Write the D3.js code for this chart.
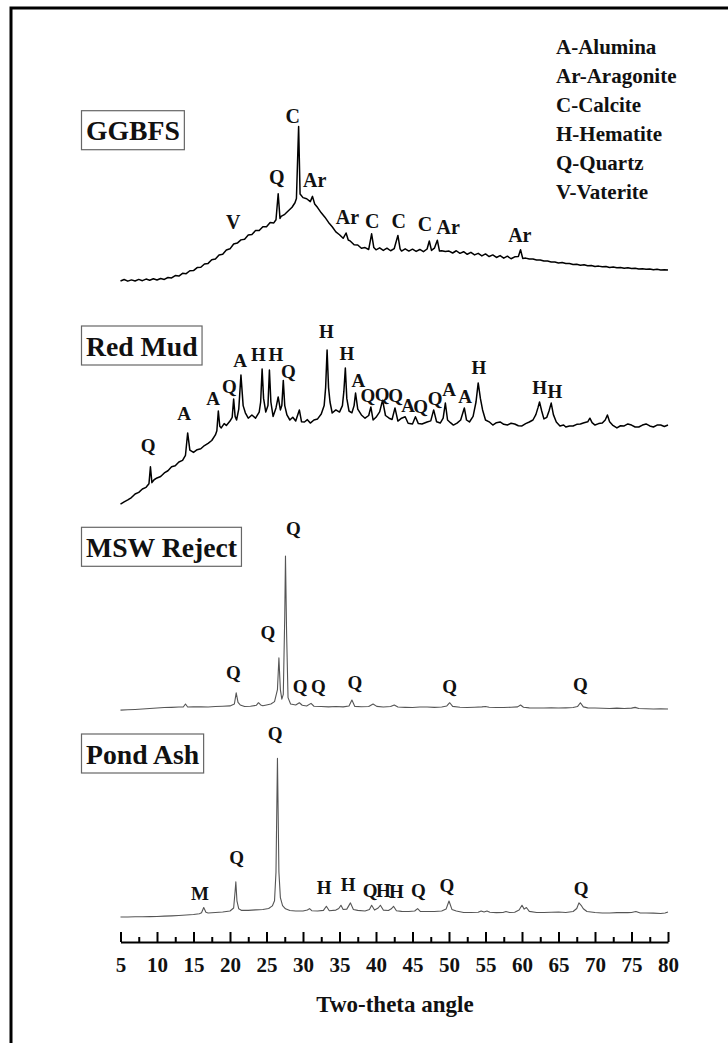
<!DOCTYPE html>
<html>
<head>
    <script src="https://d3js.org/d3.v7.min.js"></script>
    <style>
        body { margin: 0; background: white; }
        text { font-family: "Liberation Serif", "Times New Roman", serif; font-weight: bold; fill: #111; }
    </style>
</head>
<body>
<div id="chart"></div>
<script>
    // ---- data (2-theta, relative intensity 0-100 per pattern) ----
    var ggbfs = [[5,2.5],[5.5,3.4],[6,2.4],[6.5,3.2],[7,2.5],[7.5,3.5],[8,2.7],[8.5,3.7],[9,3.0],[9.5,3.9],[10,3.1],[10.5,4.1],[11,3.5],[11.5,4.7],[12,4.4],[12.5,5.9],[13,5.6],[13.5,7.3],[14,7.1],[14.5,8.9],[15,9.0],[15.5,10.9],[16,11.1],[16.5,13.1],[17,13.5],[17.5,15.8],[18,16.2],[18.5,18.8],[19,19.2],[19.5,21.9],[20,22.6],[20.5,25.6],[21,26.2],[21.5,28.2],[22,28.6],[22.5,31.2],[23,31.6],[23.5,34],[24,34],[24.5,36.4],[25,36.4],[25.5,39],[26,38.8],[26.3,40.8],[26.6,57],[26.85,41.6],[27,42.9],[27.5,44.2],[28,46.4],[28.5,48.6],[28.9,51.4],[29.1,54],[29.4,99],[29.6,56.9],[30,54.6],[30.5,53.9],[31,52.1],[31.3,55.4],[31.6,50.6],[32,48.4],[32.5,45.1],[33,42.4],[33.5,39.1],[34,36.4],[34.5,33.2],[35,31.4],[35.5,29.2],[35.9,32.5],[36.2,28.1],[36.5,27.4],[37,25.1],[37.5,25],[38,23],[38.5,23.4],[39,22.2],[39.4,32],[39.7,23.4],[40,22],[40.5,23.2],[41,21.6],[41.5,23],[42,21.4],[42.5,22.8],[43,31],[43.3,22.6],[43.5,21.2],[44,22.6],[44.5,21.2],[45,22.4],[45.5,21],[46,22.2],[46.5,20.8],[47,22.5],[47.3,27.5],[47.6,21.6],[48,23],[48.4,28],[48.7,21.2],[49,21.4],[49.5,21],[50,21.2],[50.5,20],[51,21.4],[51.5,19.8],[52,20.8],[52.5,19.2],[53,20.4],[53.5,18.8],[54,19.8],[54.5,18.2],[55,19.4],[55.5,17.8],[56,18.8],[56.5,17.2],[57,18.4],[57.5,16.8],[58,18],[58.5,16.4],[59,17.6],[59.5,17.8],[59.8,22],[60.1,16.6],[60.5,16.8],[61,16.2],[61.5,16.2],[62,15.6],[62.5,15.6],[63,15],[63.5,15],[64,14.4],[64.5,14.4],[65,13.8],[65.5,14],[66,13.4],[66.5,13.4],[67,12.8],[67.5,13],[68,12.4],[68.5,12.6],[69,12],[69.5,12.2],[70,11.6],[70.5,11.8],[71,11.4],[71.5,11.6],[72,11],[72.5,11.2],[73,10.8],[73.5,11],[74,10.5],[74.5,10.8],[75,10.3],[75.5,10.5],[76,10],[76.5,10.2],[77,9.8],[77.5,10],[78,9.5],[78.5,9.8],[79,9.4],[79.5,9.6],[80,9.4]];

    var redMud = [[5,3.3],[5.5,4.5],[6,5.6],[6.5,6.9],[7,8.9],[7.5,9.8],[8,11.7],[8.5,12.6],[8.9,14.6],[9.1,24],[9.3,15.2],[9.6,16.8],[10,17.8],[10.5,18.6],[11,20.6],[11.5,21.8],[12,24],[12.5,24.6],[13,26.7],[13.5,27.6],[13.9,30.4],[14.2,42.8],[14.5,33.3],[15,32],[15.5,33.5],[16,34],[16.5,35.8],[17,37],[17.5,38.6],[18,41.7],[18.2,44],[18.4,55],[18.6,46.5],[18.8,45.6],[19.2,48],[19.5,47],[20,49.4],[20.3,51.5],[20.5,61.7],[20.7,52],[20.9,50],[21.2,56],[21.5,75],[21.8,58],[22.1,54],[22.5,51],[23,52.8],[23.5,51],[24,54.4],[24.2,60],[24.4,78.3],[24.6,62],[24.9,54.4],[25.2,58],[25.4,77.8],[25.6,60],[25.9,52],[26.3,56.7],[26.6,62.8],[26.9,55.6],[27.1,58],[27.3,72],[27.5,58],[27.8,52.8],[28.2,50],[28.6,51.5],[29,49.4],[29.5,55.6],[29.8,49],[30.2,48.9],[30.6,50.2],[31,48.3],[31.5,50],[32,50.6],[32.5,53.3],[32.9,58],[33.1,68],[33.3,88.9],[33.5,68],[33.7,60],[34,53.9],[34.5,55.6],[35,54.4],[35.4,58],[35.6,66],[35.8,78.9],[36,62],[36.3,55],[36.7,54],[37,58],[37.2,65],[37.5,56],[38,52.8],[38.5,51],[39,52.5],[39.3,57.2],[39.6,50],[40,51.5],[40.5,54.5],[40.9,61],[41.3,52.5],[41.8,51],[42.2,50.3],[42.6,56.7],[43,49.4],[43.5,51],[44,51.8],[44.4,48.2],[45,47.8],[45.4,51.8],[45.8,48],[46.3,47.8],[47,48.9],[47.5,49.5],[47.9,55.6],[48.3,49],[48.8,48.3],[49.2,51],[49.5,59.4],[49.8,50],[50.2,48.5],[50.6,47.2],[51.1,48.3],[51.6,50],[51.9,54],[52.1,56.7],[52.4,50],[52.8,48.9],[53.3,52],[53.7,60],[54,70.6],[54.3,62],[54.6,55.6],[55,50],[55.5,49],[56,47.2],[56.5,48.5],[57,48.9],[57.5,47.6],[58,47.2],[58.5,48.2],[59,47.8],[59.5,46.8],[60,46.7],[60.5,48],[61,48.9],[61.5,50],[61.9,53],[62.2,57],[62.4,60],[62.7,55],[63,50.6],[63.4,51.5],[63.7,55],[64,59.4],[64.3,53],[64.7,48.9],[65.2,46.7],[65.7,47.2],[66,46.1],[66.5,46.7],[67,46.7],[67.5,47.6],[68,47.8],[68.5,48.5],[69,49],[69.3,51],[69.6,48.5],[70,47.2],[70.5,48],[71,48.3],[71.4,50],[71.7,52.8],[72,49],[72.4,47.2],[73,45.6],[73.5,46.8],[74,46.7],[74.5,47.8],[75,47.2],[75.5,46.1],[76,46.1],[76.5,47.2],[77,47.8],[77.5,46.7],[78,46.1],[78.5,47.2],[79,47.2],[79.5,46.4],[80,47.2]];

    var mswReject = [[5,1.2],[6,1.4],[7,1.6],[8,1.9],[9,2.2],[10,2.5],[11,2.8],[12,2.9],[13,3.1],[13.6,3.1],[13.9,5],[14.2,3.1],[15,3.2],[16,3.3],[17,3.1],[18,3.4],[19,3.6],[20,3.8],[20.6,5],[20.85,12],[21.1,6],[21.4,4.4],[22,3.4],[22.8,3.6],[23.6,4.2],[23.9,5.8],[24.2,4.4],[24.5,3.9],[25,4.4],[25.6,5],[26.1,6.5],[26.5,14],[26.7,33.8],[26.9,14],[27.1,8],[27.3,11],[27.5,60],[27.6,97.5],[27.75,50],[27.95,9],[28.3,5],[29,4.4],[29.5,5.8],[29.9,4.2],[30.5,3.8],[31.1,5.4],[31.5,3.6],[32.5,3.4],[33.5,3.2],[34.5,3.4],[35.5,3.2],[36.3,3.8],[36.7,7.5],[37.1,3.5],[38,3.3],[39,3.4],[39.6,5],[40.1,3.5],[41,3.1],[42,3.4],[42.5,4.4],[43,3.1],[44,2.9],[45,2.8],[46,3.1],[47,3.1],[48,2.9],[49,3.1],[49.7,3.8],[50.1,5.8],[50.5,3.5],[51.5,3],[52.5,2.8],[53.5,3],[54.5,3.2],[55,3.4],[55.5,3],[56.5,2.8],[57.5,2.8],[58.5,3],[59.4,3.2],[59.8,4.4],[60.2,3],[61,2.6],[62,2.5],[63,2.5],[64,2.6],[65,2.5],[66,2.6],[67,2.8],[67.6,3.4],[68,5.8],[68.4,3.2],[69,2.6],[70,2.5],[71,2.3],[72,2.2],[73,2.4],[74,2.2],[75,2.4],[75.5,2.9],[76,2.2],[77,2.0],[78,1.9],[79,2.0],[80,1.9]];

    var pondAsh = [[5,1.9],[6,1.9],[7,2.0],[8,2.0],[9,2.1],[10,2.2],[11,2.4],[12,2.6],[13,2.8],[14,3.1],[15,3.4],[15.8,3.9],[16.1,4.5],[16.4,7.8],[16.7,4.8],[17,4.4],[18,4.7],[19,5.0],[20,5.6],[20.5,7.5],[20.7,18],[20.8,23.8],[20.95,12],[21.2,7],[21.6,6],[22.5,6],[23.5,6.3],[24.5,6.6],[25.3,7.2],[25.8,8.8],[26.1,12],[26.3,30],[26.5,101],[26.7,30],[26.9,14],[27.2,9],[27.6,7],[28.2,5.9],[29,5.6],[30,5.6],[30.6,6.2],[30.9,7.1],[31.2,5.8],[32,5.6],[32.8,6],[33.2,8.6],[33.6,5.8],[34.5,6.2],[34.9,7.2],[35.2,9.2],[35.5,6.6],[36,6.8],[36.5,10.7],[36.9,6.6],[37.5,6],[38.5,5.6],[39.1,6.6],[39.4,9.2],[39.8,6.2],[40.3,7.5],[40.6,9.2],[41,6.2],[41.7,5.9],[42.1,7],[42.4,8.6],[42.8,5.8],[43.5,5.4],[44.5,5.3],[45.3,5.6],[45.7,7.1],[46.1,5.3],[47,5.3],[48,5.3],[49,5.6],[49.6,6.8],[50,11.9],[50.4,6.6],[51,5.6],[52,4.7],[53,4.7],[54,4.8],[54.4,5.6],[54.8,5],[55.2,5.6],[55.6,4.8],[56.5,4.6],[57.4,4.7],[57.8,5.3],[58.3,4.7],[59,4.8],[59.6,6.2],[60,9.2],[60.3,6.8],[60.6,7.8],[61,5.4],[62,4.7],[63,4.7],[64,4.8],[65,5.0],[66,4.7],[67,5.3],[67.5,7.2],[67.8,10.7],[68.1,9.2],[68.4,7],[68.9,5.3],[70,4.7],[71,4.4],[72,4.4],[73,4.6],[73.8,4.7],[74.5,4.6],[75,4.7],[75.6,5.3],[76.2,4.4],[77,4.4],[78,4.3],[79,4.1],[79.6,4.4],[80,5]];

    // phase tags: [letter, 2-theta, level]
    var ggbfsTags = [["V",20.45,35],["Q",26.4,63],["C",28.6,101],["Ar",31.6,61],["Ar",36.1,38],["C",39.5,35.6],["C",43.1,35.6],["C",46.7,33.8],["Ar",49.9,32],["Ar",59.7,27]];
    var redMudTags = [["Q",8.8,32],["A",13.7,50],["A",17.7,58.6],["Q",19.9,65],["A",21.4,79.4],["H",23.9,82.8],["H",26.3,82.8],["Q",28,73.6],["H",33.2,95.8],["H",36,83.3],["A",37.6,68.3],["Q",38.9,60],["Q",40.85,60.4],["Q",42.7,60],["A",44.4,54.4],["Q",46.1,53.9],["Q",48.1,58.3],["A",50,63.3],["A",52.2,59.2],["H",54.1,75.8],["H",62.4,64.4],["H",64.5,62.5]];
    var mswTags = [["Q",28.7,110.6],["Q",25.2,45.9],["Q",20.45,20.9],["Q",29.6,11.6],["Q",32.1,11.6],["Q",37.1,14.4],["Q",50.1,11.6],["Q",68,13.1]];
    var pondTags = [["Q",26.2,112.5],["Q",20.9,35.3],["M",15.9,12.5],["H",32.9,16.3],["H",36.2,18.1],["Q",39.2,14.4],["H",41,14.4],["H",42.8,13.8],["Q",45.8,14.4],["Q",49.7,17.8],["Q",68.1,15.6]];

    var sampleNames = ["GGBFS", "Red Mud", "MSW Reject", "Pond Ash"];
    var legendItems = ["A-Alumina", "Ar-Aragonite", "C-Calcite", "H-Hematite", "Q-Quartz", "V-Vaterite"];
    var majorTicks = [5, 10, 15, 20, 25, 30, 35, 40, 45, 50, 55, 60, 65, 70, 75, 80];
    var minorTicks = [7.5, 12.5, 17.5, 22.5, 27.5, 32.5, 37.5, 42.5, 47.5, 52.5, 57.5, 62.5, 67.5, 72.5, 77.5];

    var width = 728, height = 1043;
    var svg = d3.select("#chart").append("svg")
        .attr("width", width).attr("height", height);

    // outer frame
    svg.append("rect")
        .attr("x", 11).attr("y", 8)
        .attr("width", 760).attr("height", 1080)
        .attr("fill", "none").attr("stroke", "black").attr("stroke-width", 3);

    var xs = d3.scaleLinear().domain([5, 80]).range([120.5, 668]);

    var panels = [
        { name: sampleNames[0], data: ggbfs, tags: ggbfsTags, range: [285, 125], box: 110.7, color: "#000", sw: 1.5, fs: 20 },
        { name: sampleNames[1], data: redMud, tags: redMudTags, range: [510, 330], box: 326, color: "#000", sw: 1.5, fs: 19 },
        { name: sampleNames[2], data: mswReject, tags: mswTags, range: [712, 552], box: 527.3, color: "#555", sw: 1.1, fs: 19 },
        { name: sampleNames[3], data: pondAsh, tags: pondTags, range: [920, 760], box: 734, color: "#555", sw: 1.1, fs: 19 }
    ];

    panels.forEach(function (p) {
        var ys = d3.scaleLinear().domain([0, 100]).range(p.range);
        var line = d3.line().x(d => xs(d[0])).y(d => ys(d[1]));

        svg.append("path")
            .datum(p.data)
            .attr("d", line)
            .attr("fill", "none")
            .attr("stroke", p.color)
            .attr("stroke-width", p.sw)
            .attr("stroke-linejoin", "round");

        svg.selectAll(null)
            .data(p.tags)
            .enter()
            .append("text")
            .attr("x", d => xs(d[1]))
            .attr("y", d => ys(d[2]))
            .attr("text-anchor", "middle")
            .style("font-size", p.fs + "px")
            .text(d => d[0]);

        // sample name in a box
        var t = svg.append("text")
            .attr("x", 86).attr("y", p.box + 29.5)
            .style("font-size", "27.7px")
            .text(p.name);
        var w = t.node().getComputedTextLength();
        svg.insert("rect", "text")
            .attr("x", 81.5).attr("y", p.box)
            .attr("width", w + 9).attr("height", 39)
            .attr("fill", "white").attr("stroke", "#666").attr("stroke-width", 1.2);
    });

    // legend
    svg.selectAll(null)
        .data(legendItems)
        .enter()
        .append("text")
        .attr("x", 556)
        .attr("y", (d, i) => 54 + i * 29)
        .style("font-size", "21px")
        .text(d => d);

    // x axis, ticks pointing up
    var xAxis = d3.axisBottom(xs).tickValues(majorTicks).tickSize(-10).tickSizeOuter(0).tickPadding(15);
    var gx = svg.append("g").attr("transform", "translate(0,942)").call(xAxis);
    gx.select(".domain").attr("stroke-width", 2).attr("stroke", "black");
    gx.selectAll(".tick line").attr("stroke-width", 2).attr("stroke", "black");
    gx.selectAll(".tick text").style("font-size", "21px")
        .style("font-family", "'Liberation Serif', 'Times New Roman', serif")
        .style("font-weight", "bold").attr("fill", "#111");

    var minorAxis = d3.axisBottom(xs).tickValues(minorTicks).tickSize(-5).tickFormat("");
    var gm = svg.append("g").attr("transform", "translate(0,942)").call(minorAxis);
    gm.select(".domain").remove();
    gm.selectAll(".tick line").attr("stroke-width", 2).attr("stroke", "black");

    svg.append("text")
        .attr("x", 395).attr("y", 1012)
        .attr("text-anchor", "middle")
        .style("font-size", "23px")
        .text("Two-theta angle");
</script>
</body>
</html>
